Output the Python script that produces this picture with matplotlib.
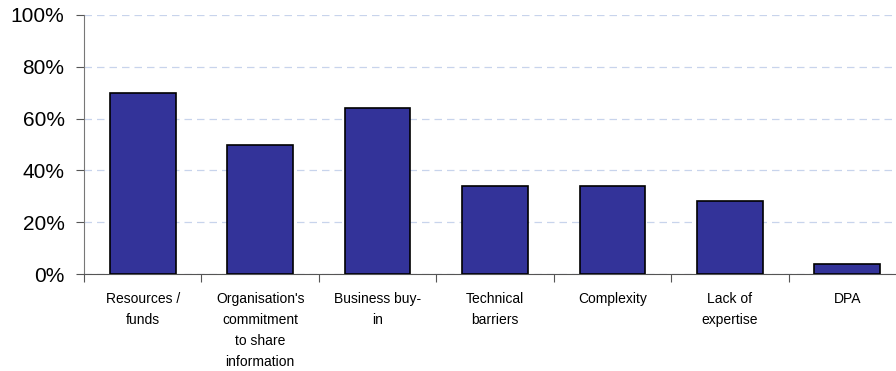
import numpy as np
import matplotlib.pyplot as plt

categories = ["Resources /\nfunds", "Organisation's\ncommitment\nto share\ninformation",
              "Business buy-\nin", "Technical\nbarriers", "Complexity",
              "Lack of\nexpertise", "DPA"]
values = [70, 50, 64, 34, 34, 28, 4]
yticks = [0, 20, 40, 60, 80, 100]

plt.rcParams['font.family'] = ['Liberation Sans', 'DejaVu Sans']

fig = plt.figure(figsize=(8.96, 3.71), dpi=100)
ax = fig.add_axes([84/896, 1-274/371, 822/896, 259/371])

x = np.arange(len(values))
ax.bar(x, values, width=0.56, color='#333399', edgecolor='black', linewidth=1.2, zorder=3)

ax.set_xlim(-0.5, len(values) - 0.5)
ax.set_ylim(0, 100)
ax.set_yticks(yticks)
ax.set_yticklabels([f"{v}%" for v in yticks], fontsize=15)
ax.yaxis.grid(True, color='#c8d4ec', linestyle=(0, (6, 4)), linewidth=0.9, zorder=0)

# category labels sit between the boundary ticks
ax.set_xticks(np.arange(len(values) + 1) - 0.5)
ax.set_xticklabels([])
ax.set_xticks(x, minor=True)
ax.set_xticklabels(categories, minor=True, fontsize=10, va='top', ha='center', linespacing=1.62)
ax.tick_params(axis='x', which='minor', length=0, pad=13)
ax.tick_params(axis='x', which='major', length=6, color='#555555', direction='out')
ax.tick_params(axis='y', length=6, color='#555555', pad=8)

for side in ['top', 'right']:
    ax.spines[side].set_visible(False)
ax.spines['left'].set_color('#777777')
ax.spines['bottom'].set_color('#555555')

fig.savefig('out.png', dpi=100)
